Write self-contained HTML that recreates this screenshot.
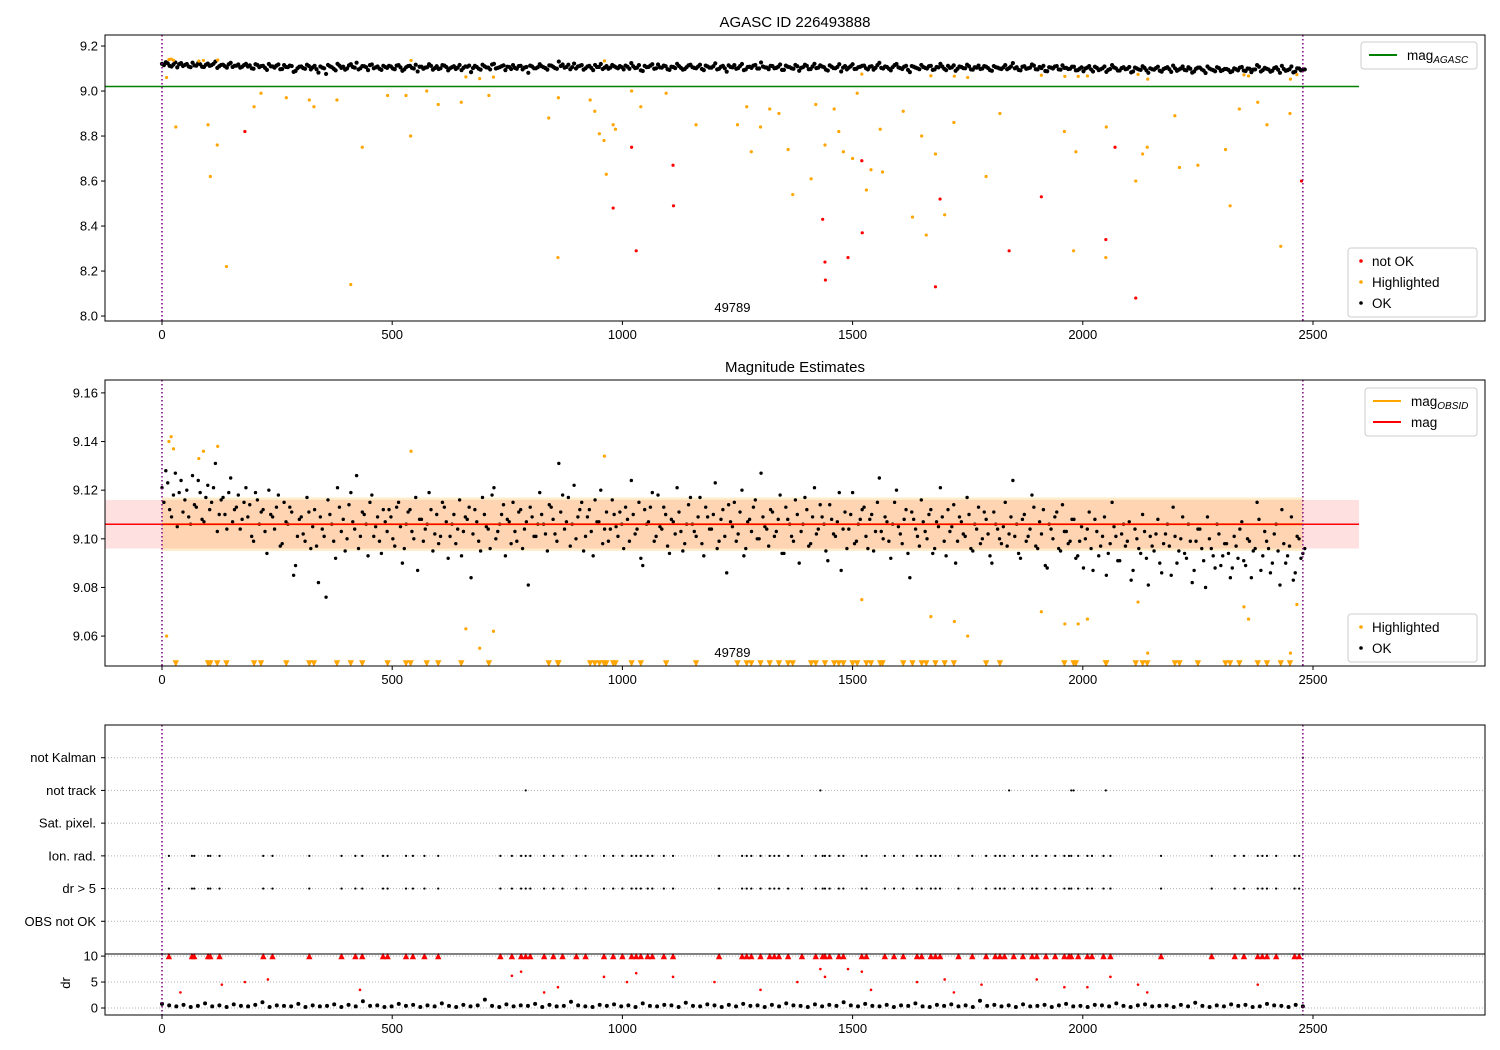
<!DOCTYPE html>
<html><head><meta charset="utf-8"><style>
html,body{margin:0;padding:0;background:#fff;}
svg{display:block;font-family:"Liberation Sans","DejaVu Sans",sans-serif;}
</style></head><body>
<svg id="chart" width="1500" height="1050" viewBox="0 0 1500 1050" xmlns="http://www.w3.org/2000/svg"></svg>
<script>
// ---------- DATA ----------
const obsCount = 2478;
const okMag = [
9.121,9.128,9.112,9.118,9.105,9.124,9.116,9.109,9.126,9.113,9.119,9.107,9.122,9.115,9.131,9.110,9.117,9.104,9.125,9.112,
9.118,9.108,9.121,9.114,9.099,9.116,9.111,9.103,9.120,9.109,9.113,9.097,9.115,9.106,9.111,9.089,9.108,9.102,9.117,9.096,
9.112,9.082,9.104,9.076,9.110,9.099,9.121,9.103,9.095,9.114,9.107,9.126,9.101,9.110,9.093,9.118,9.105,9.099,9.112,9.103,
9.109,9.097,9.115,9.090,9.106,9.112,9.100,9.087,9.108,9.104,9.119,9.095,9.110,9.101,9.113,9.092,9.106,9.098,9.116,9.103,
9.108,9.084,9.112,9.099,9.117,9.105,9.096,9.121,9.103,9.110,9.093,9.107,9.115,9.099,9.112,9.104,9.081,9.109,9.101,9.119,
9.106,9.095,9.113,9.102,9.131,9.118,9.107,9.097,9.122,9.109,9.115,9.101,9.112,9.093,9.107,9.120,9.104,9.099,9.116,9.105,
9.111,9.096,9.108,9.124,9.102,9.115,9.089,9.106,9.113,9.099,9.118,9.104,9.110,9.094,9.107,9.121,9.103,9.098,9.114,9.106,
9.101,9.117,9.093,9.109,9.104,9.123,9.099,9.112,9.086,9.107,9.115,9.102,9.120,9.096,9.108,9.113,9.100,9.127,9.105,9.097,
9.111,9.103,9.118,9.094,9.108,9.101,9.116,9.090,9.106,9.112,9.098,9.121,9.104,9.109,9.095,9.114,9.102,9.107,9.087,9.111,
9.104,9.119,9.099,9.108,9.113,9.096,9.110,9.103,9.125,9.100,9.107,9.092,9.115,9.105,9.098,9.112,9.084,9.108,9.101,9.116,
9.103,9.110,9.094,9.107,9.121,9.099,9.112,9.105,9.090,9.109,9.102,9.117,9.096,9.106,9.113,9.100,9.108,9.093,9.111,9.104,
9.098,9.115,9.102,9.124,9.106,9.092,9.110,9.101,9.118,9.097,9.107,9.112,9.088,9.104,9.109,9.096,9.114,9.103,9.099,9.108,
9.093,9.105,9.100,9.111,9.087,9.103,9.097,9.109,9.094,9.115,9.101,9.091,9.106,9.099,9.083,9.104,9.096,9.110,9.092,9.101,
9.095,9.108,9.086,9.102,9.097,9.113,9.090,9.100,9.094,9.106,9.082,9.099,9.104,9.091,9.109,9.096,9.088,9.102,9.093,9.098,
9.084,9.101,9.092,9.107,9.089,9.099,9.095,9.115,9.087,9.103,9.096,9.090,9.106,9.081,9.098,9.093,9.109,9.086,9.100,9.094];
const okMag2 = [
9.115,9.123,9.109,9.127,9.119,9.111,9.120,9.106,9.114,9.124,9.108,9.117,9.112,9.121,9.103,9.116,9.110,9.119,9.107,9.113,
9.104,9.115,9.109,9.101,9.119,9.106,9.112,9.094,9.110,9.104,9.118,9.098,9.107,9.113,9.085,9.101,9.109,9.099,9.111,9.105,
9.097,9.109,9.101,9.116,9.106,9.092,9.113,9.108,9.100,9.119,9.104,9.096,9.111,9.106,9.115,9.101,9.109,9.094,9.107,9.112,
9.100,9.113,9.105,9.096,9.111,9.103,9.117,9.108,9.099,9.106,9.112,9.102,9.098,9.115,9.107,9.101,9.110,9.104,9.093,9.109,
9.113,9.102,9.107,9.095,9.110,9.104,9.118,9.100,9.106,9.114,9.108,9.098,9.103,9.111,9.096,9.107,9.113,9.101,9.106,9.110,
9.102,9.114,9.108,9.099,9.111,9.104,9.117,9.106,9.100,9.112,9.095,9.109,9.103,9.116,9.107,9.098,9.111,9.104,9.110,9.101,
9.106,9.113,9.099,9.110,9.104,9.092,9.112,9.107,9.119,9.101,9.105,9.113,9.097,9.108,9.102,9.111,9.095,9.106,9.117,9.103,
9.109,9.098,9.113,9.104,9.110,9.096,9.108,9.101,9.114,9.105,9.099,9.111,9.093,9.107,9.103,9.116,9.100,9.109,9.104,9.112,
9.101,9.108,9.094,9.113,9.106,9.099,9.110,9.103,9.117,9.097,9.109,9.102,9.114,9.106,9.091,9.108,9.101,9.119,9.104,9.096,
9.110,9.098,9.106,9.112,9.101,9.108,9.095,9.115,9.103,9.109,9.099,9.106,9.120,9.102,9.108,9.094,9.111,9.104,9.097,9.107,
9.100,9.112,9.096,9.105,9.109,9.093,9.103,9.114,9.099,9.107,9.101,9.110,9.095,9.104,9.098,9.111,9.102,9.090,9.106,9.100,
9.105,9.097,9.109,9.101,9.094,9.108,9.099,9.104,9.113,9.096,9.102,9.089,9.106,9.100,9.111,9.095,9.103,9.098,9.108,9.092,
9.099,9.088,9.104,9.096,9.108,9.093,9.101,9.085,9.098,9.105,9.091,9.102,9.097,9.107,9.087,9.100,9.094,9.103,9.081,9.097,
9.102,9.090,9.098,9.106,9.085,9.101,9.095,9.109,9.092,9.099,9.087,9.104,9.096,9.080,9.100,9.093,9.106,9.089,9.098,9.094,
9.088,9.097,9.104,9.091,9.100,9.084,9.096,9.108,9.093,9.099,9.086,9.102,9.095,9.112,9.090,9.097,9.083,9.101,9.092,9.096];
const hlX = [10,15,20,25,30,80,90,100,105,120,121,140,200,215,270,320,330,380,410,435,490,530,540,541,575,600,650,660,690,710,720,840,860,861,930,940,950,960,961,965,980,985,1020,1040,1095,1160,1250,1270,1280,1300,1320,1340,1360,1370,1410,1420,1440,1460,1470,1480,1500,1510,1520,1530,1540,1560,1565,1610,1630,1650,1660,1670,1680,1700,1720,1721,1750,1790,1820,1910,1960,1961,1980,1985,1990,2010,2050,2051,2115,2120,2130,2140,2141,2200,2210,2250,2310,2320,2340,2350,2360,2380,2400,2430,2450,2451,2465];
const hlMag = [9.060,9.140,9.142,9.137,8.840,9.133,9.136,8.850,8.620,8.760,9.138,8.220,8.930,8.990,8.970,8.960,8.930,8.960,8.140,8.750,8.980,8.980,8.800,9.136,9.000,8.940,8.950,9.063,9.055,8.980,9.062,8.880,8.260,8.970,8.960,8.910,8.810,8.780,9.134,8.630,8.850,8.830,9.000,8.930,8.990,8.850,8.850,8.930,8.730,8.840,8.920,8.900,8.740,8.540,8.610,8.940,8.760,8.920,8.820,8.730,8.700,8.990,9.075,8.560,8.650,8.830,8.640,8.910,8.440,8.800,8.360,9.068,8.720,8.450,8.860,9.066,9.060,8.620,8.900,9.070,8.820,9.065,8.290,8.730,9.065,9.067,8.260,8.840,8.600,9.074,8.720,8.750,9.053,8.890,8.660,8.670,8.740,8.490,8.920,9.072,9.067,8.950,8.850,8.310,8.900,9.053,9.073];
const notOkX = [180,980,1020,1030,1110,1111,1435,1440,1441,1490,1520,1521,1680,1690,1840,1910,2050,2070,2115,2475];
const notOkMag = [8.82,8.48,8.75,8.29,8.67,8.49,8.43,8.24,8.16,8.26,8.69,8.37,8.13,8.52,8.29,8.53,8.34,8.75,8.08,8.60];
const agascMag = 9.02;
const obsMag = 9.106;
const magErr = 0.010;
const obsBandLo = 9.095, obsBandHi = 9.117;
const flagCats = ["OBS not OK","dr > 5","Ion. rad.","Sat. pixel.","not track","not Kalman"];
const ionRadX = [15,65,70,100,105,125,220,240,320,390,420,435,480,490,530,545,570,600,735,760,780,790,800,830,850,870,900,920,960,980,1000,1020,1030,1040,1055,1065,1090,1110,1210,1260,1270,1280,1300,1320,1330,1340,1360,1390,1420,1435,1440,1450,1470,1480,1520,1530,1570,1590,1610,1640,1650,1670,1680,1690,1730,1760,1790,1810,1820,1830,1850,1870,1890,1900,1920,1940,1960,1970,1975,1990,2010,2020,2045,2060,2170,2280,2330,2350,2380,2390,2400,2420,2460,2470];
const notTrackX = [790,1430,1840,1975,1980,2050];
const notKalmanX = [2478];
const drOk = [0.8,0.5,0.3,0.6,0.2,0.4,0.9,0.3,0.5,0.2,0.7,0.4,0.3,0.6,1.1,0.2,0.5,0.4,0.3,0.8,
0.2,0.5,0.3,0.4,0.7,0.2,0.6,0.3,1.3,0.4,0.5,0.2,0.3,0.8,0.4,0.6,0.2,0.5,0.3,0.9,
0.4,0.2,0.6,0.3,0.5,1.6,0.4,0.2,0.7,0.3,0.5,0.4,0.8,0.2,0.6,0.3,0.4,1.2,0.5,0.3,
0.2,0.6,0.4,0.7,0.3,0.5,0.2,0.9,0.4,0.3,0.6,0.5,0.2,1.0,0.4,0.3,0.7,0.5,0.2,0.6,
0.3,0.8,0.4,0.5,0.2,0.6,0.3,0.9,0.5,0.4,0.2,0.7,0.3,0.6,0.4,1.1,0.5,0.3,0.8,0.4,
0.3,0.6,0.2,0.5,0.4,0.9,0.3,0.2,0.6,0.4,0.7,0.3,0.5,0.2,1.4,0.4,0.6,0.3,0.5,0.2,
0.7,0.3,0.4,0.6,0.2,0.5,0.8,0.3,0.4,0.2,0.6,0.5,0.3,0.9,0.4,0.2,0.5,0.7,0.3,0.4,
0.5,0.2,0.6,0.3,1.0,0.4,0.2,0.5,0.3,0.7,0.4,0.6,0.2,0.3,0.8,0.5,0.4,0.2,0.6,0.3];
const drBadX = [40,130,180,230,430,760,780,830,860,960,1010,1030,1110,1200,1300,1380,1430,1440,1490,1520,1540,1640,1700,1720,1780,1900,1960,2010,2060,2120,2140,2380];
const drBad = [3,4.5,5,5.5,3.5,6.2,7,3,4,6,5,6.7,6,5,3.5,5,7.5,6,7.5,7,3.5,5,5.5,3,4.5,5.5,4,4,6,4.5,3,4.5];
const xTicks = [0,500,1000,1500,2000,2500];
const p1Ticks = [8.0,8.2,8.4,8.6,8.8,9.0,9.2];
const p2Ticks = [9.06,9.08,9.10,9.12,9.14,9.16];
const drTicks = [0,5,10];

// ---------- LAYOUT ----------
const svg = document.getElementById('chart');
const NS = 'http://www.w3.org/2000/svg';
const X0 = 105, X1 = 1485;
const xMin = -123.8, xMax = 2873.6;
const sx = v => X0 + (v - xMin) / (xMax - xMin) * (X1 - X0);
const P1 = {y0:35, y1:321, min:7.978, max:9.249};
const P2 = {y0:380, y1:666, min:9.0477, max:9.1653};
const P3 = {y0:725, y1:954, min:-1, max:6};
const P4 = {y0:954, y1:1015, min:-1.35, max:10.4};
const sy = (p, v) => p.y1 - (v - p.min) / (p.max - p.min) * (p.y1 - p.y0);

function mk(tag, attrs, parent) {
  const el = document.createElementNS(NS, tag);
  for (const k in attrs) el.setAttribute(k, attrs[k]);
  (parent || svg).appendChild(el);
  return el;
}
function txt(s, attrs, parent) {
  const el = mk('text', attrs, parent);
  el.textContent = s;
  return el;
}
function obsX(i, n, off) { return (i + (off || 0)) * obsCount / (n - 1); }

function frame(p, name) {
  const r = mk('rect', {x:X0, y:p.y0, width:X1-X0, height:p.y1-p.y0, fill:'none', stroke:'#000', 'stroke-width':1});
  
  
}
function xAxis(p, labels) {
  const g = mk('g', {});
  
  
  xTicks.forEach(t => {
    mk('line', {x1:sx(t), x2:sx(t), y1:p.y1, y2:p.y1+4, stroke:'#000'}, g);
    if (labels) {
      const l = txt(String(t), {x:sx(t), y:p.y1+18, 'font-size':13, 'text-anchor':'middle'}, g);
      
      
    }
  });
}
function yAxis(p, ticks, fmt) {
  const g = mk('g', {});
  
  
  ticks.forEach(t => {
    const y = sy(p, t);
    mk('line', {x1:X0-4, x2:X0, y1:y, y2:y, stroke:'#000'}, g);
    const l = txt(fmt(t), {x:X0-7, y:y+4.5, 'font-size':13, 'text-anchor':'end'}, g);
    
    
  });
}
function vlines(p) {
  [0, obsCount].forEach(v => {
    const l = mk('line', {x1:sx(v), x2:sx(v), y1:p.y0, y2:p.y1, stroke:'#800080', 'stroke-width':1.5, 'stroke-dasharray':'1.5,2.5'});
    
    
  });
}
function dot(p, x, y, color, r, name) {
  const c = mk('circle', {cx:sx(x), cy:sy(p, y), r:r||1.6, fill:color});
  
  
}
function tri(x, y, down, color, name) {
  const s = 3.2;
  const pts = down ? `${x-s},${y-s} ${x+s},${y-s} ${x},${y+s}` : `${x-s},${y+s} ${x+s},${y+s} ${x},${y-s}`;
  const t = mk('polygon', {points:pts, fill:color});
  
  
}
function legend(x, y, w, items) {
  const g = mk('g', {});
  
  
  mk('rect', {x:x, y:y, width:w, height:items.length*21+6, rx:3, fill:'#fff', 'fill-opacity':0.85, stroke:'#ccc'}, g);
  items.forEach((it, i) => {
    const cy = y + 13 + i*21;
    if (it.type === 'line') mk('line', {x1:x+8, x2:x+36, y1:cy, y2:cy, stroke:it.color, 'stroke-width':2}, g);
    else mk('circle', {cx:x+13, cy:cy, r:1.8, fill:it.color}, g);
    const t = txt(it.label, {x:x+(it.type==='line'?46:24), y:cy+5, 'font-size':13.5}, g);
    
    
    if (it.sub) {
      const s = mk('tspan', {'font-size':10, 'font-style':'italic', dy:3}, t);
      s.textContent = it.sub;
    }
  });
}
function plotOk(p, r) {
  okMag.forEach((v, i) => dot(p, obsX(i, okMag.length), v, '#000', r, 'ok-point'));
  okMag2.forEach((v, i) => dot(p, obsX(i, okMag2.length, 0.5), v, '#000', r, 'ok-point'));
}

// ---------- PANEL 1 ----------
let t = txt('AGASC ID 226493888', {x:795, y:27, 'font-size':15, 'text-anchor':'middle'});


mk('line', {x1:X0, x2:sx(2600), y1:sy(P1, agascMag), y2:sy(P1, agascMag), stroke:'green', 'stroke-width':1.5});
plotOk(P1, 2.1);
hlX.forEach((x, i) => dot(P1, x, hlMag[i], 'orange', 1.6, 'highlighted-point'));
notOkX.forEach((x, i) => dot(P1, x, notOkMag[i], 'red', 1.6, 'not-ok-point'));
vlines(P1);
frame(P1, 'magnitude-panel');
xAxis(P1, true);
yAxis(P1, p1Ticks, v => v.toFixed(1));
t = txt('49789', {x:sx(obsCount/2), y:312, 'font-size':13, 'text-anchor':'middle'});


legend(1361, 42, 116, [{type:'line', color:'green', label:'mag', sub:'AGASC'}]);
legend(1348, 248, 129, [{type:'dot', color:'red', label:'not OK'}, {type:'dot', color:'orange', label:'Highlighted'}, {type:'dot', color:'#000', label:'OK'}]);

// ---------- PANEL 2 ----------
t = txt('Magnitude Estimates', {x:795, y:372, 'font-size':15, 'text-anchor':'middle'});


let b = mk('rect', {x:X0, y:sy(P2, obsMag+magErr), width:sx(2600)-X0, height:sy(P2, obsMag-magErr)-sy(P2, obsMag+magErr), fill:'red', 'fill-opacity':0.12});


b = mk('rect', {x:sx(0), y:sy(P2, obsBandHi), width:sx(obsCount)-sx(0), height:sy(P2, obsBandLo)-sy(P2, obsBandHi), fill:'orange', 'fill-opacity':0.2});


plotOk(P2, 1.7);
hlX.forEach((x, i) => {
  if (hlMag[i] < P2.min) tri(sx(x), sy(P2, P2.min)-2.5, true, 'orange', 'highlighted-out-of-range');
  else dot(P2, x, hlMag[i], 'orange', 1.6, 'highlighted-point');
});
mk('line', {x1:sx(0), x2:sx(obsCount), y1:sy(P2, obsMag), y2:sy(P2, obsMag), stroke:'orange', 'stroke-width':2});
mk('line', {x1:X0, x2:sx(2600), y1:sy(P2, obsMag), y2:sy(P2, obsMag), stroke:'red', 'stroke-width':1.5});
vlines(P2);
frame(P2, 'estimates-panel');
xAxis(P2, true);
yAxis(P2, p2Ticks, v => v.toFixed(2));
t = txt('49789', {x:sx(obsCount/2), y:657, 'font-size':13, 'text-anchor':'middle'});


legend(1365, 388, 112, [{type:'line', color:'orange', label:'mag', sub:'OBSID'}, {type:'line', color:'red', label:'mag'}]);
legend(1348, 614, 129, [{type:'dot', color:'orange', label:'Highlighted'}, {type:'dot', color:'#000', label:'OK'}]);

// ---------- PANEL 3 (flags) ----------
flagCats.forEach((c, k) => {
  const y = sy(P3, k);
  mk('line', {x1:X0, x2:X1, y1:y, y2:y, stroke:'#b0b0b0', 'stroke-dasharray':'1,2'});
  mk('line', {x1:X0-4, x2:X0, y1:y, y2:y, stroke:'#000'});
  const l = txt(c, {x:X0-9, y:y+4.5, 'font-size':13, 'text-anchor':'end'});
  
  
});
ionRadX.forEach(x => { dot(P3, x, 2, '#000', 1.1, 'ion-rad-flag'); dot(P3, x, 1, '#000', 1.1, 'dr-flag'); });
notTrackX.forEach(x => dot(P3, x, 4, '#000', 1.1, 'not-track-flag'));
notKalmanX.forEach(x => dot(P3, x, 5, '#000', 1.1, 'not-kalman-flag'));
vlines(P3);
frame(P3, 'flags-panel');

// ---------- PANEL 4 (dr) ----------
drTicks.forEach(v => {
  const y = sy(P4, v);
  mk('line', {x1:X0, x2:X1, y1:y, y2:y, stroke:'#b0b0b0', 'stroke-dasharray':'1,2'});
});
drOk.forEach((v, i) => dot(P4, obsX(i, drOk.length), v, '#000', 2, 'dr-ok-point'));
ionRadX.forEach(x => tri(sx(x), sy(P4, 10), false, 'red', 'dr-out-of-range'));
drBadX.forEach((x, i) => dot(P4, x, drBad[i], 'red', 1.3, 'dr-bad-point'));
vlines(P4);
frame(P4, 'dr-panel');
xAxis(P4, true);
yAxis(P4, drTicks, v => String(v));
t = txt('dr', {x:70, y:983, 'font-size':13, 'text-anchor':'middle', transform:'rotate(-90 70 983)'});


</script>
</body></html>
